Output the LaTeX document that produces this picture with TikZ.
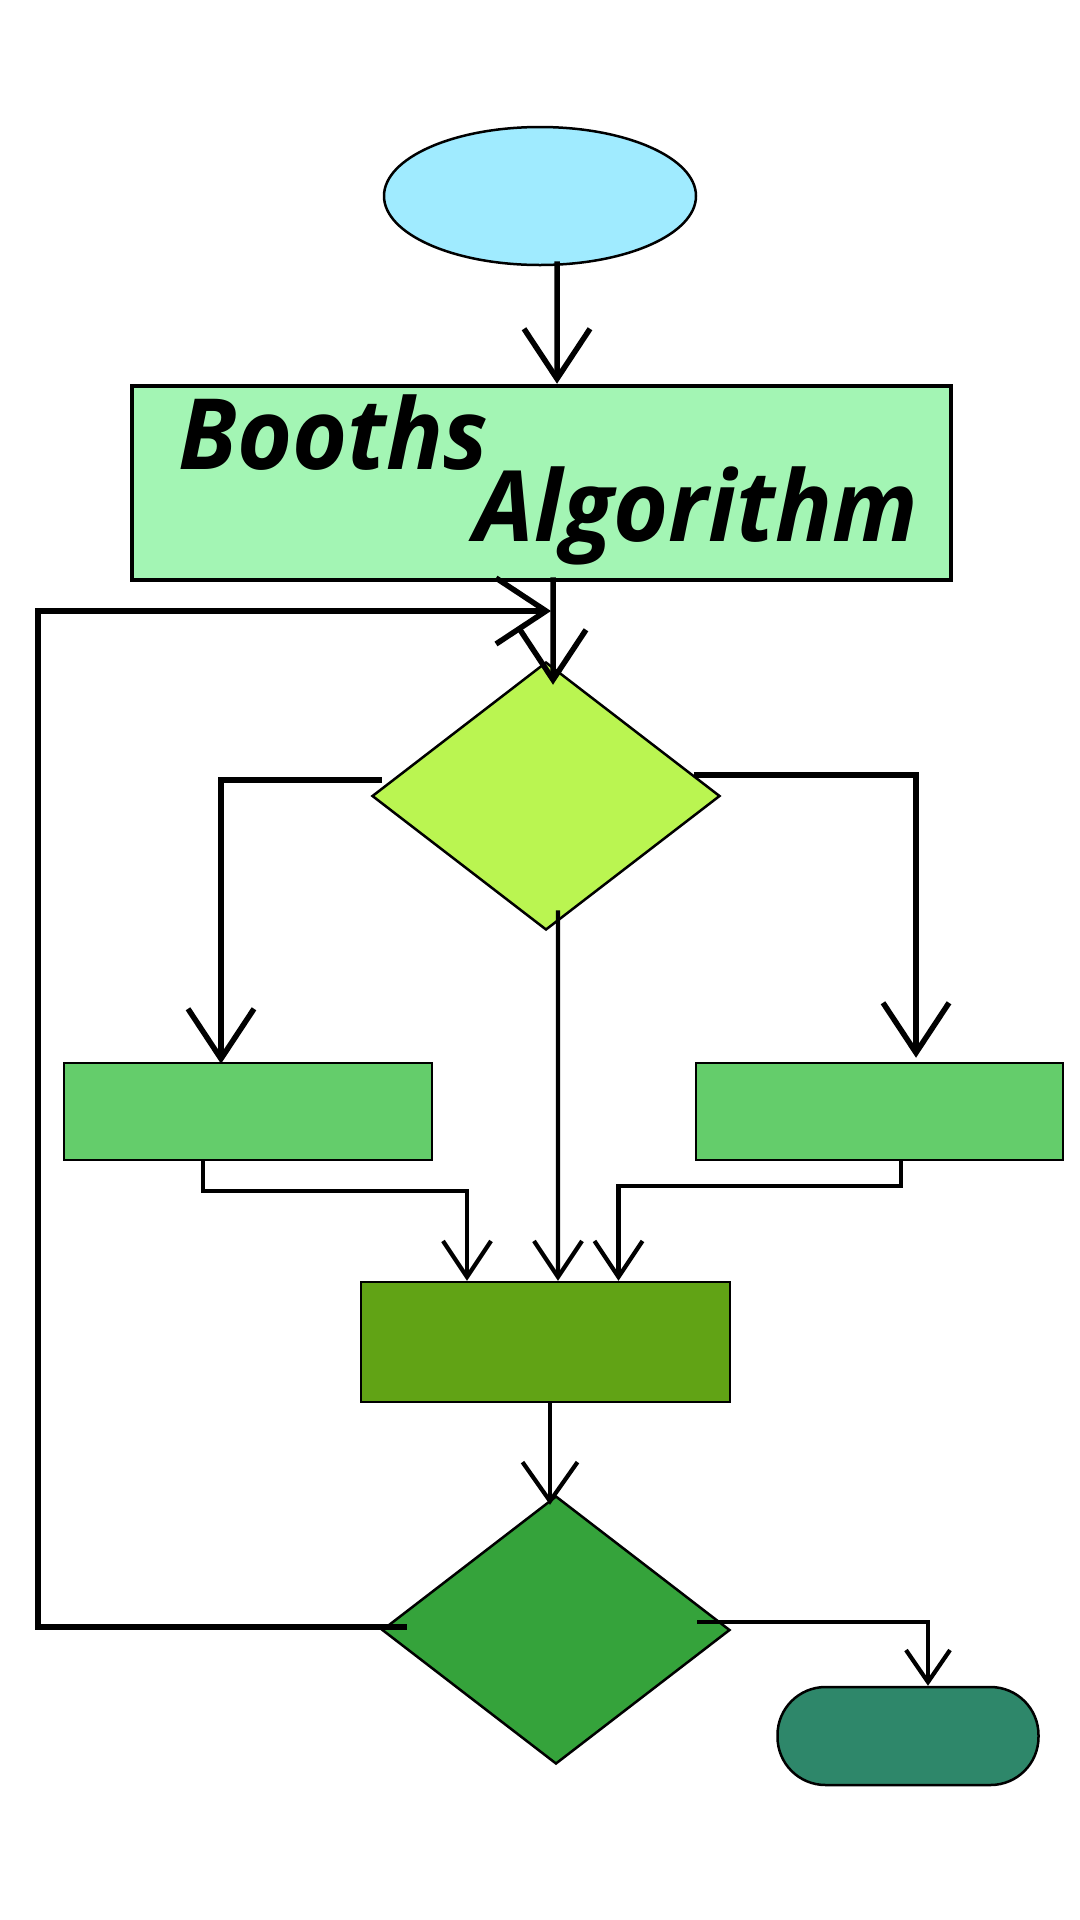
\documentclass[tikz,border=0pt]{standalone}
\usepackage{fontspec}
\newfontfamily\titlefont[FakeStretch=0.96]{Open Sans}
\usetikzlibrary{positioning}
\usetikzlibrary{shapes.geometric}
\usetikzlibrary{arrows.meta}
\definecolor{startblue}{RGB}{160,235,255}
\definecolor{titlegreen}{RGB}{163,245,180}
\definecolor{limegreen}{RGB}{186,245,81}
\definecolor{stepgreen}{RGB}{100,205,107}
\definecolor{olivegreen}{RGB}{97,163,21}
\definecolor{darkgreen}{RGB}{53,163,59}
\definecolor{endteal}{RGB}{46,135,106}

\begin{document}
\begin{tikzpicture}[x=1mm, y=-1mm,
    shapeline/.style={draw=black, line width=0.25mm},
    procbox/.style={shapeline, rectangle, inner sep=0pt},
    decide/.style={shapeline, diamond, inner sep=0pt, minimum width=34.8mm, minimum height=26.8mm},
    bigtip/.style={line width=0.55mm, -{Straight Barb[length=5mm,width=6.6mm]}},
    smalltip/.style={line width=0.42mm, -{Straight Barb[length=3.6mm,width=4.8mm]}},
    titletext/.style={font=\titlefont\bfseries\itshape\fontsize{28}{28}\selectfont, inner sep=0pt, anchor=base west}]

    \useasboundingbox (0,0) rectangle (108,192);

    \node [shapeline, ellipse, fill=startblue, minimum width=31.2mm, minimum height=13.8mm, inner sep=0pt] (start) at (54,19.6) {};
    \node [procbox, fill=titlegreen, line width=0.45mm, minimum width=81.9mm, minimum height=19.4mm] (title) at (54.15,48.3) {};
    \node [titletext] (booths) at (17.8,46.9) {Booths};
    \node [titletext] (algo) at (47.4,54.1) {Algorithm};
    \node [decide, fill=limegreen] (d1) at (54.6,79.6) {};
    \node [procbox, fill=stepgreen, minimum width=36.8mm, minimum height=9.7mm] (lbox) at (24.8,111.15) {};
    \node [procbox, fill=stepgreen, minimum width=36.7mm, minimum height=9.7mm] (rbox) at (87.95,111.15) {};
    \node [procbox, fill=olivegreen, minimum width=36.9mm, minimum height=12mm] (mid) at (54.55,134.2) {};
    \node [decide, fill=darkgreen] (d2) at (55.6,163) {};
    \node [shapeline, rectangle, rounded corners=4.8mm, fill=endteal, minimum width=26.1mm, minimum height=9.8mm, inner sep=0pt] (stop) at (90.8,173.6) {};

    \coordinate (loopcorner) at (3.8,61.1);
    \coordinate (merge) at (55.1,61.1);

    \draw [bigtip] ([xshift=1.7mm,yshift=0.5mm]start.south) -- ([xshift=1.55mm]title.north);
    \draw [bigtip] ([xshift=1.15mm,yshift=0.5mm]title.south) -- ([xshift=0.7mm,yshift=-2.4mm]d1.north);
    \draw [bigtip] ([xshift=2.6mm,yshift=0.3mm]d2.west) -| (loopcorner) -- (merge);
    \draw [bigtip] ([xshift=1.1mm,yshift=1.6mm]d1.west) -| ([xshift=-2.7mm,yshift=-0.2mm]lbox.north);
    \draw [bigtip] ([xshift=-2.7mm,yshift=2.1mm]d1.east) -| ([xshift=3.65mm,yshift=0.4mm]rbox.north);
    \draw [smalltip] ([xshift=1.2mm,yshift=2.1mm]d1.south) -- ([xshift=1.25mm]mid.north);
    \draw [smalltip] ([xshift=-4.5mm]lbox.south) -- ++(0,3) -| ([xshift=-7.85mm]mid.north);
    \draw [smalltip] ([xshift=2.15mm]rbox.south) -- ++(0,2.5) -| ([xshift=7.3mm]mid.north);
    \draw [smalltip, -{Straight Barb[length=3.9mm,width=5.5mm]}] ([xshift=0.45mm]mid.south) -- ([xshift=-0.6mm,yshift=-1mm]d2.north);
    \draw [smalltip, -{Straight Barb[length=3.2mm,width=4.4mm]}] ([xshift=-3.4mm,yshift=0.8mm]d2.east) -| ([xshift=2mm]stop.north);
\end{tikzpicture}
\end{document}
